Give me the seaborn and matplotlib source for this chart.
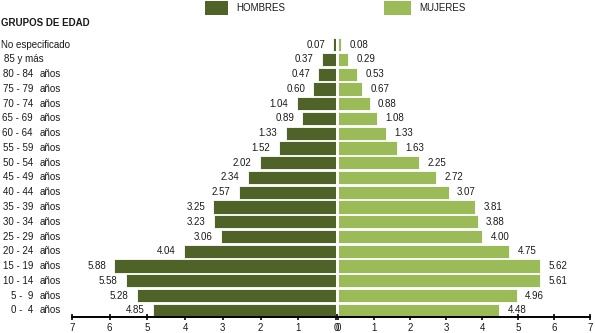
import matplotlib
matplotlib.use("Agg")
import matplotlib.pyplot as plt
import matplotlib.transforms as mtransforms
from matplotlib.patches import Rectangle
import seaborn as sns
import pandas as pd

# ---- data ----
age_ranges = ["No especificado", "85 y más", "80 - 84", "75 - 79", "70 - 74", "65 - 69",
              "60 - 64", "55 - 59", "50 - 54", "45 - 49", "40 - 44", "35 - 39",
              "30 - 34", "25 - 29", "20 - 24", "15 - 19", "10 - 14", "5 -  9", "0 -  4"]
hombres = [0.07, 0.37, 0.47, 0.60, 1.04, 0.89, 1.33, 1.52, 2.02, 2.34, 2.57, 3.25,
           3.23, 3.06, 4.04, 5.88, 5.58, 5.28, 4.85]
mujeres = [0.08, 0.29, 0.53, 0.67, 0.88, 1.08, 1.33, 1.63, 2.25, 2.72, 3.07, 3.81,
           3.88, 4.00, 4.75, 5.62, 5.61, 4.96, 4.48]
tick_values = [0, 1, 2, 3, 4, 5, 6, 7]

DARK = "#4F6228"
LIGHT = "#9BBB59"
TXT = "#1a1a1a"

sns.set_style("white")
plt.rcParams["font.family"] = ["Liberation Sans", "DejaVu Sans"]

df = pd.DataFrame({"grupo": age_ranges, "hombres": hombres, "mujeres": mujeres})

W, H = 595, 333
fig = plt.figure(figsize=(W / 100, H / 100), dpi=100)

bottom = 16 / H
height = 279 / H
axL = fig.add_axes([72 / W, bottom, (336 - 72) / W, height])
axR = fig.add_axes([338 / W, bottom, (590 - 338) / W, height])

sns.barplot(data=df, y="grupo", x="hombres", order=age_ranges, orient="h",
            color=DARK, saturation=1, width=0.9, edgecolor="white", linewidth=0.6, ax=axL)
sns.barplot(data=df, y="grupo", x="mujeres", order=age_ranges, orient="h",
            color=LIGHT, saturation=1, width=0.9, edgecolor="white", linewidth=0.6, ax=axR)

n = len(age_ranges)
for ax, vals, side in [(axL, hombres, "L"), (axR, mujeres, "R")]:
    ax.set_ylim(n - 1 + 0.45, -0.45)
    if side == "L":
        ax.set_xlim(7, 0)
    else:
        ax.set_xlim(0, 7)
    ax.set_xticks(tick_values)
    ax.set_xticklabels([str(t) for t in tick_values])
    ax.set_yticks([])
    ax.set_xlabel("")
    ax.set_ylabel("")
    for s in ["top", "left", "right"]:
        ax.spines[s].set_visible(False)
    ax.spines["bottom"].set_linewidth(1.4)
    ax.spines["bottom"].set_color("black")
    ax.tick_params(axis="x", direction="inout", length=4, width=1.2, labelsize=7,
                   pad=2, bottom=True, color="black", labelcolor=TXT)
    ax.set_facecolor("none")
    for i, v in enumerate(vals):
        if side == "L":
            ax.annotate(f"{v:.2f}", (v, i), xytext=(-6, 0), textcoords="offset points",
                        ha="right", va="center", fontsize=7, color=TXT)
        else:
            ax.annotate(f"{v:.2f}", (v, i), xytext=(6, 0), textcoords="offset points",
                        ha="left", va="center", fontsize=7, color=TXT)

# category labels at left
trans = mtransforms.blended_transform_factory(fig.transFigure, axL.transData)
for i, g in enumerate(age_ranges):
    if g == "No especificado":
        fig.text(1 / W, i, g, transform=trans, ha="left", va="center", fontsize=7, color=TXT)
    elif g == "85 y más":
        fig.text(4 / W, i, g, transform=trans, ha="left", va="center", fontsize=7, color=TXT)
    else:
        fig.text(33 / W, i, g, transform=trans, ha="right", va="center", fontsize=7, color=TXT)
        fig.text(40 / W, i, "años", transform=trans, ha="left", va="center", fontsize=7, color=TXT)

fig.text(1 / W, 1 - 23 / H, "GRUPOS DE EDAD", ha="left", va="center",
         fontsize=7, fontweight="bold", color=TXT)

# legend
fig.patches.append(Rectangle((205 / W, 1 - 15 / H), 23 / W, 14 / H,
                             transform=fig.transFigure, facecolor=DARK, edgecolor="none"))
fig.text(236 / W, 1 - 8 / H, "HOMBRES", ha="left", va="center", fontsize=7, color=TXT)
fig.patches.append(Rectangle((384 / W, 1 - 15 / H), 27 / W, 14 / H,
                             transform=fig.transFigure, facecolor=LIGHT, edgecolor="none"))
fig.text(419 / W, 1 - 8 / H, "MUJERES", ha="left", va="center", fontsize=7, color=TXT)

fig.savefig("out.png", dpi=100)
